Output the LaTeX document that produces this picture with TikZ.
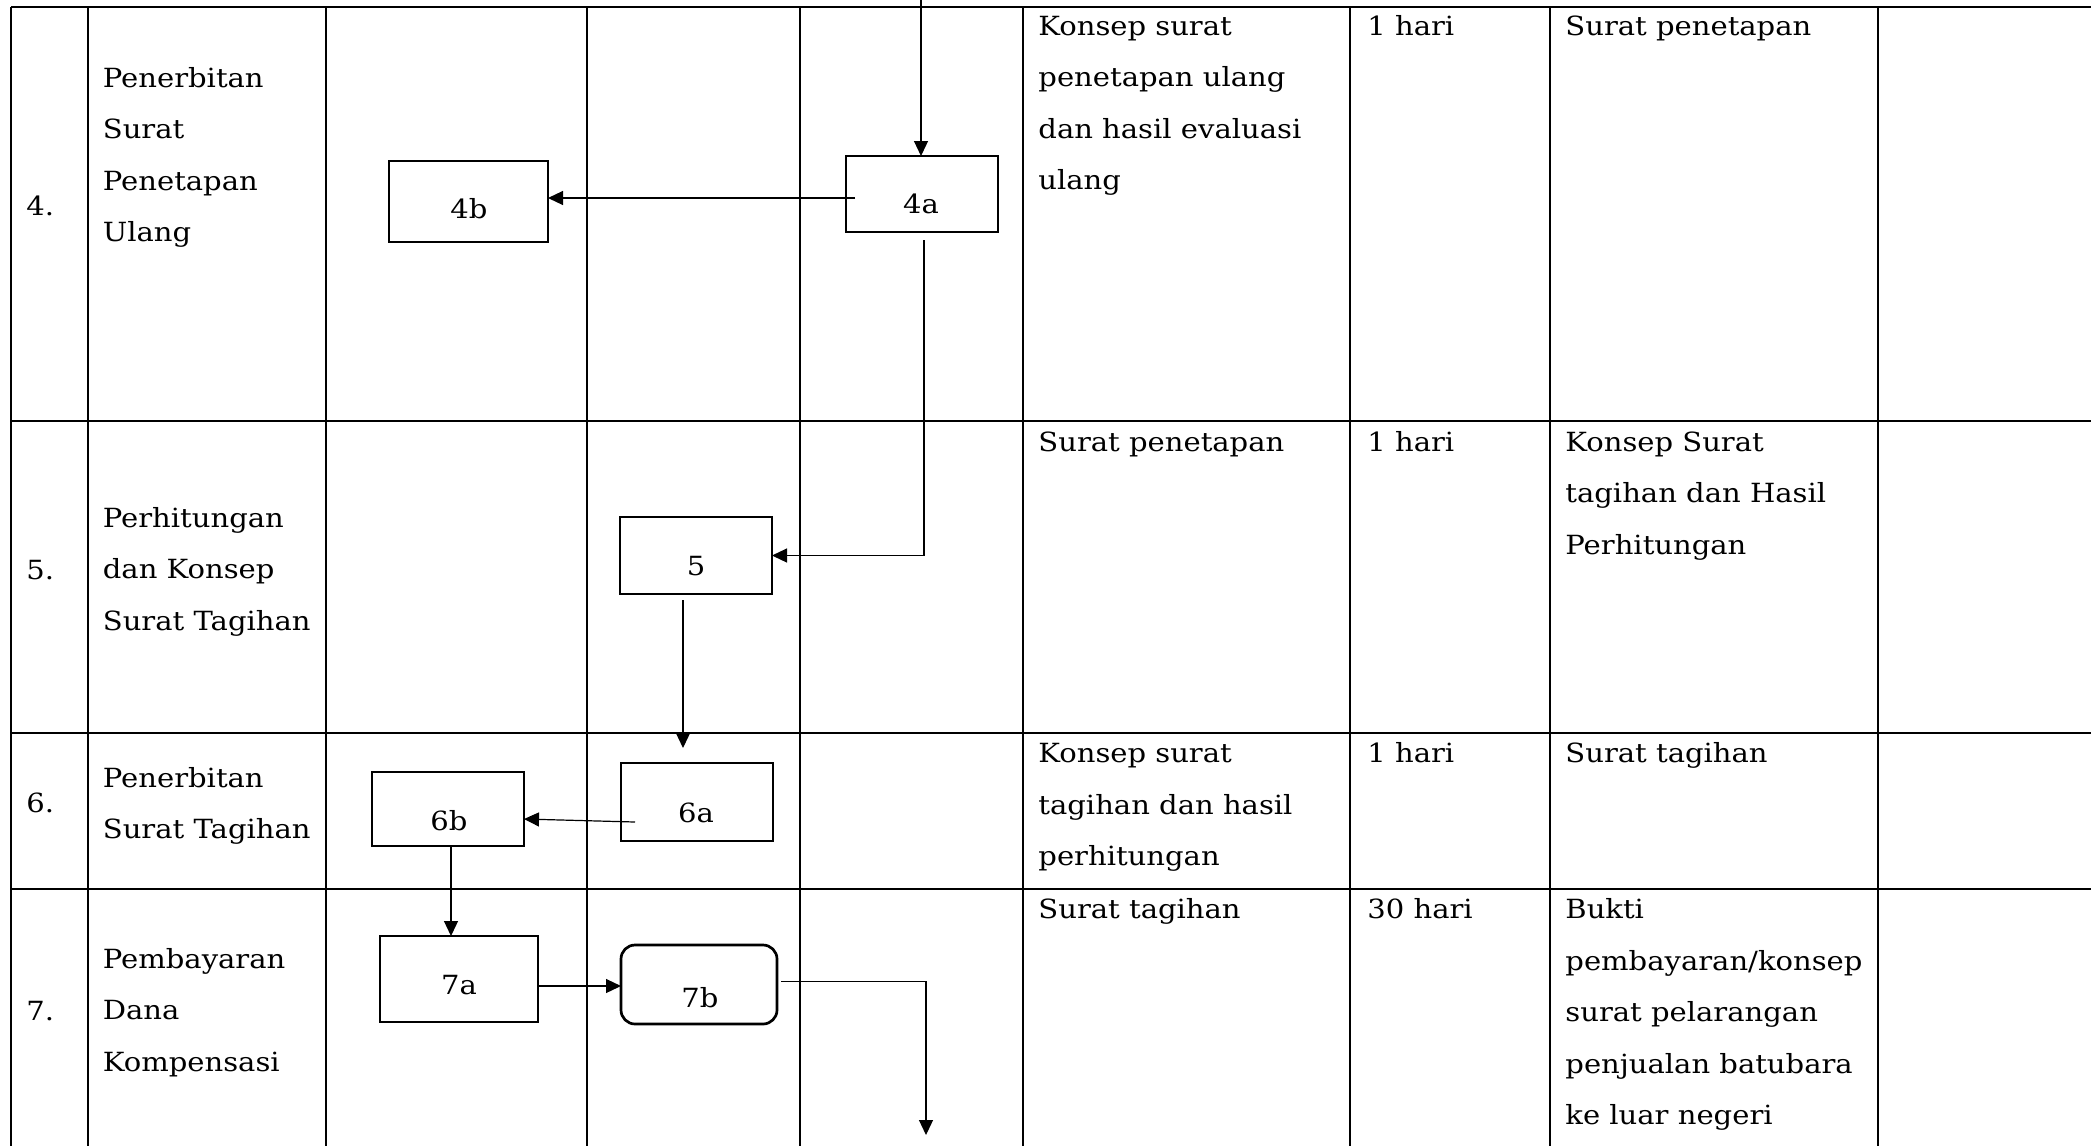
\documentclass[tikz,border=0pt]{standalone}
\usepackage{fontspec}
\setmainfont{DejaVu Serif}[FakeStretch=1.1]
\usetikzlibrary{calc,arrows.meta}
\newcommand\cellblock[4]{%
  \foreach \ln [count=\k] in {#4} {\node[txt] (#1-\k) at (#2,{#3+51.5*(\k-1)}) {\ln};}}
\begin{document}
\begin{tikzpicture}[x=0.5pt,y=-0.5pt,
  grid/.style={line width=1.1pt},
  box/.style={draw,line width=1.35pt,inner sep=0pt,outer sep=0pt},
  conn/.style={line width=0.6pt},
  tip/.style={-{Triangle[length=7.5pt,width=7pt]}},
  txt/.style={anchor=base west,inner sep=0pt,font=\fontsize{13.2}{25}\selectfont},
  lbl/.style={anchor=base,inner sep=0pt,font=\fontsize{13.2}{25}\selectfont}]
\fill[white] (0,0) rectangle (2091,1146);
\useasboundingbox (0,0) rectangle (2091,1146);
\begin{scope}
\clip (0,0) rectangle (2091,1146);
% table grid
\foreach \xx in {11,88,326,587,800,1023,1350,1550,1878}
  \draw[grid] (\xx,7) -- (\xx,1146);
\foreach \yy in {7,421,733,889}
  \draw[grid] (11,\yy) -- (2091,\yy);
\end{scope}

% row texts
\node[txt] (n4) at (26,215) {4.};
\cellblock{r4a}{102.5}{87}{Penerbitan,Surat,Penetapan,Ulang}
\cellblock{r4b}{1038}{35}{Konsep surat,penetapan ulang,dan hasil evaluasi,ulang}
\node[txt] (r4c) at (1367,35) {1 hari};
\node[txt] (r4d) at (1565,35) {Surat penetapan};

\node[txt] (n5) at (26,579) {5.};
\cellblock{r5a}{102.5}{527}{Perhitungan,dan Konsep,Surat Tagihan}
\node[txt] (r5b) at (1038,451) {Surat penetapan};
\node[txt] (r5c) at (1367,451) {1 hari};
\cellblock{r5d}{1565}{451}{Konsep Surat,tagihan dan Hasil,Perhitungan}

\node[txt] (n6) at (26,812) {6.};
\cellblock{r6a}{102.5}{787}{Penerbitan,Surat Tagihan}
\cellblock{r6b}{1038}{762.5}{Konsep surat,tagihan dan hasil,perhitungan}
\node[txt] (r6c) at (1367,762.5) {1 hari};
\node[txt] (r6d) at (1565,762.5) {Surat tagihan};

\node[txt] (n7) at (26,1020) {7.};
\cellblock{r7a}{102.5}{968}{Pembayaran,Dana,Kompensasi}
\node[txt] (r7b) at (1038,918.6) {Surat tagihan};
\node[txt] (r7c) at (1367,918.6) {30 hari};
\cellblock{r7d}{1565}{918.6}{Bukti,pembayaran/konsep,surat pelarangan,penjualan batubara,ke luar negeri}

% process boxes
\node[box,minimum width=79.5pt,minimum height=40.5pt] (b4b) at (468.5,201.5) {};
\node[box,minimum width=76pt,minimum height=38pt] (b4a) at (922,194) {};
\node[box,minimum width=76pt,minimum height=38.5pt] (b5) at (696,555.5) {};
\node[box,minimum width=76pt,minimum height=39pt] (b6a) at (697,802) {};
\node[box,minimum width=76pt,minimum height=37pt] (b6b) at (448,809) {};
\node[box,minimum width=79pt,minimum height=43pt] (b7a) at (459,979) {};
\node[box,rounded corners=7pt,minimum width=78pt,minimum height=39.5pt] (b7b) at (699,984.5) {};

\node[lbl] (l4b) at (469,218) {4b};
\node[lbl] (l4a) at (921,213) {4a};
\node[lbl] (l5) at (696,575) {5};
\node[lbl] (l6a) at (696,822) {6a};
\node[lbl] (l6b) at (449,830) {6b};
\node[lbl] (l7a) at (459,994) {7a};
\node[lbl] (l7b) at (700,1007) {7b};

% connectors
\coordinate (in4) at (921,0);
\draw[conn,tip] (in4) -- (in4 |- b4a.north);
\draw[conn,tip] ($(b4a.west)+(9,4)$) coordinate (s1) -- (s1 -| b4b.east);
\draw[conn,tip] ($(b4a.south)+(2,8)$) |- (b5.east);
\draw[conn,tip] ($(b5.south)+(-13,6)$) coordinate (s2) -- ($(b6a.north)+(-14,-15)$);
\draw[conn,tip] ($(b6a.west)+(14,20)$) -- ($(b6b.east)+(0,10)$);
\draw[conn,tip] ($(b6b.south)+(3,0)$) coordinate (s3) -- (s3 |- b7a.north);
\draw[conn,tip] ($(b7a.east)+(0,7)$) coordinate (s4) -- (s4 -| b7b.west);
\coordinate (out7) at (926,1135);
\draw[conn,tip] ($(b7b.east)+(4,-3)$) -| (out7);
\end{tikzpicture}
\end{document}
